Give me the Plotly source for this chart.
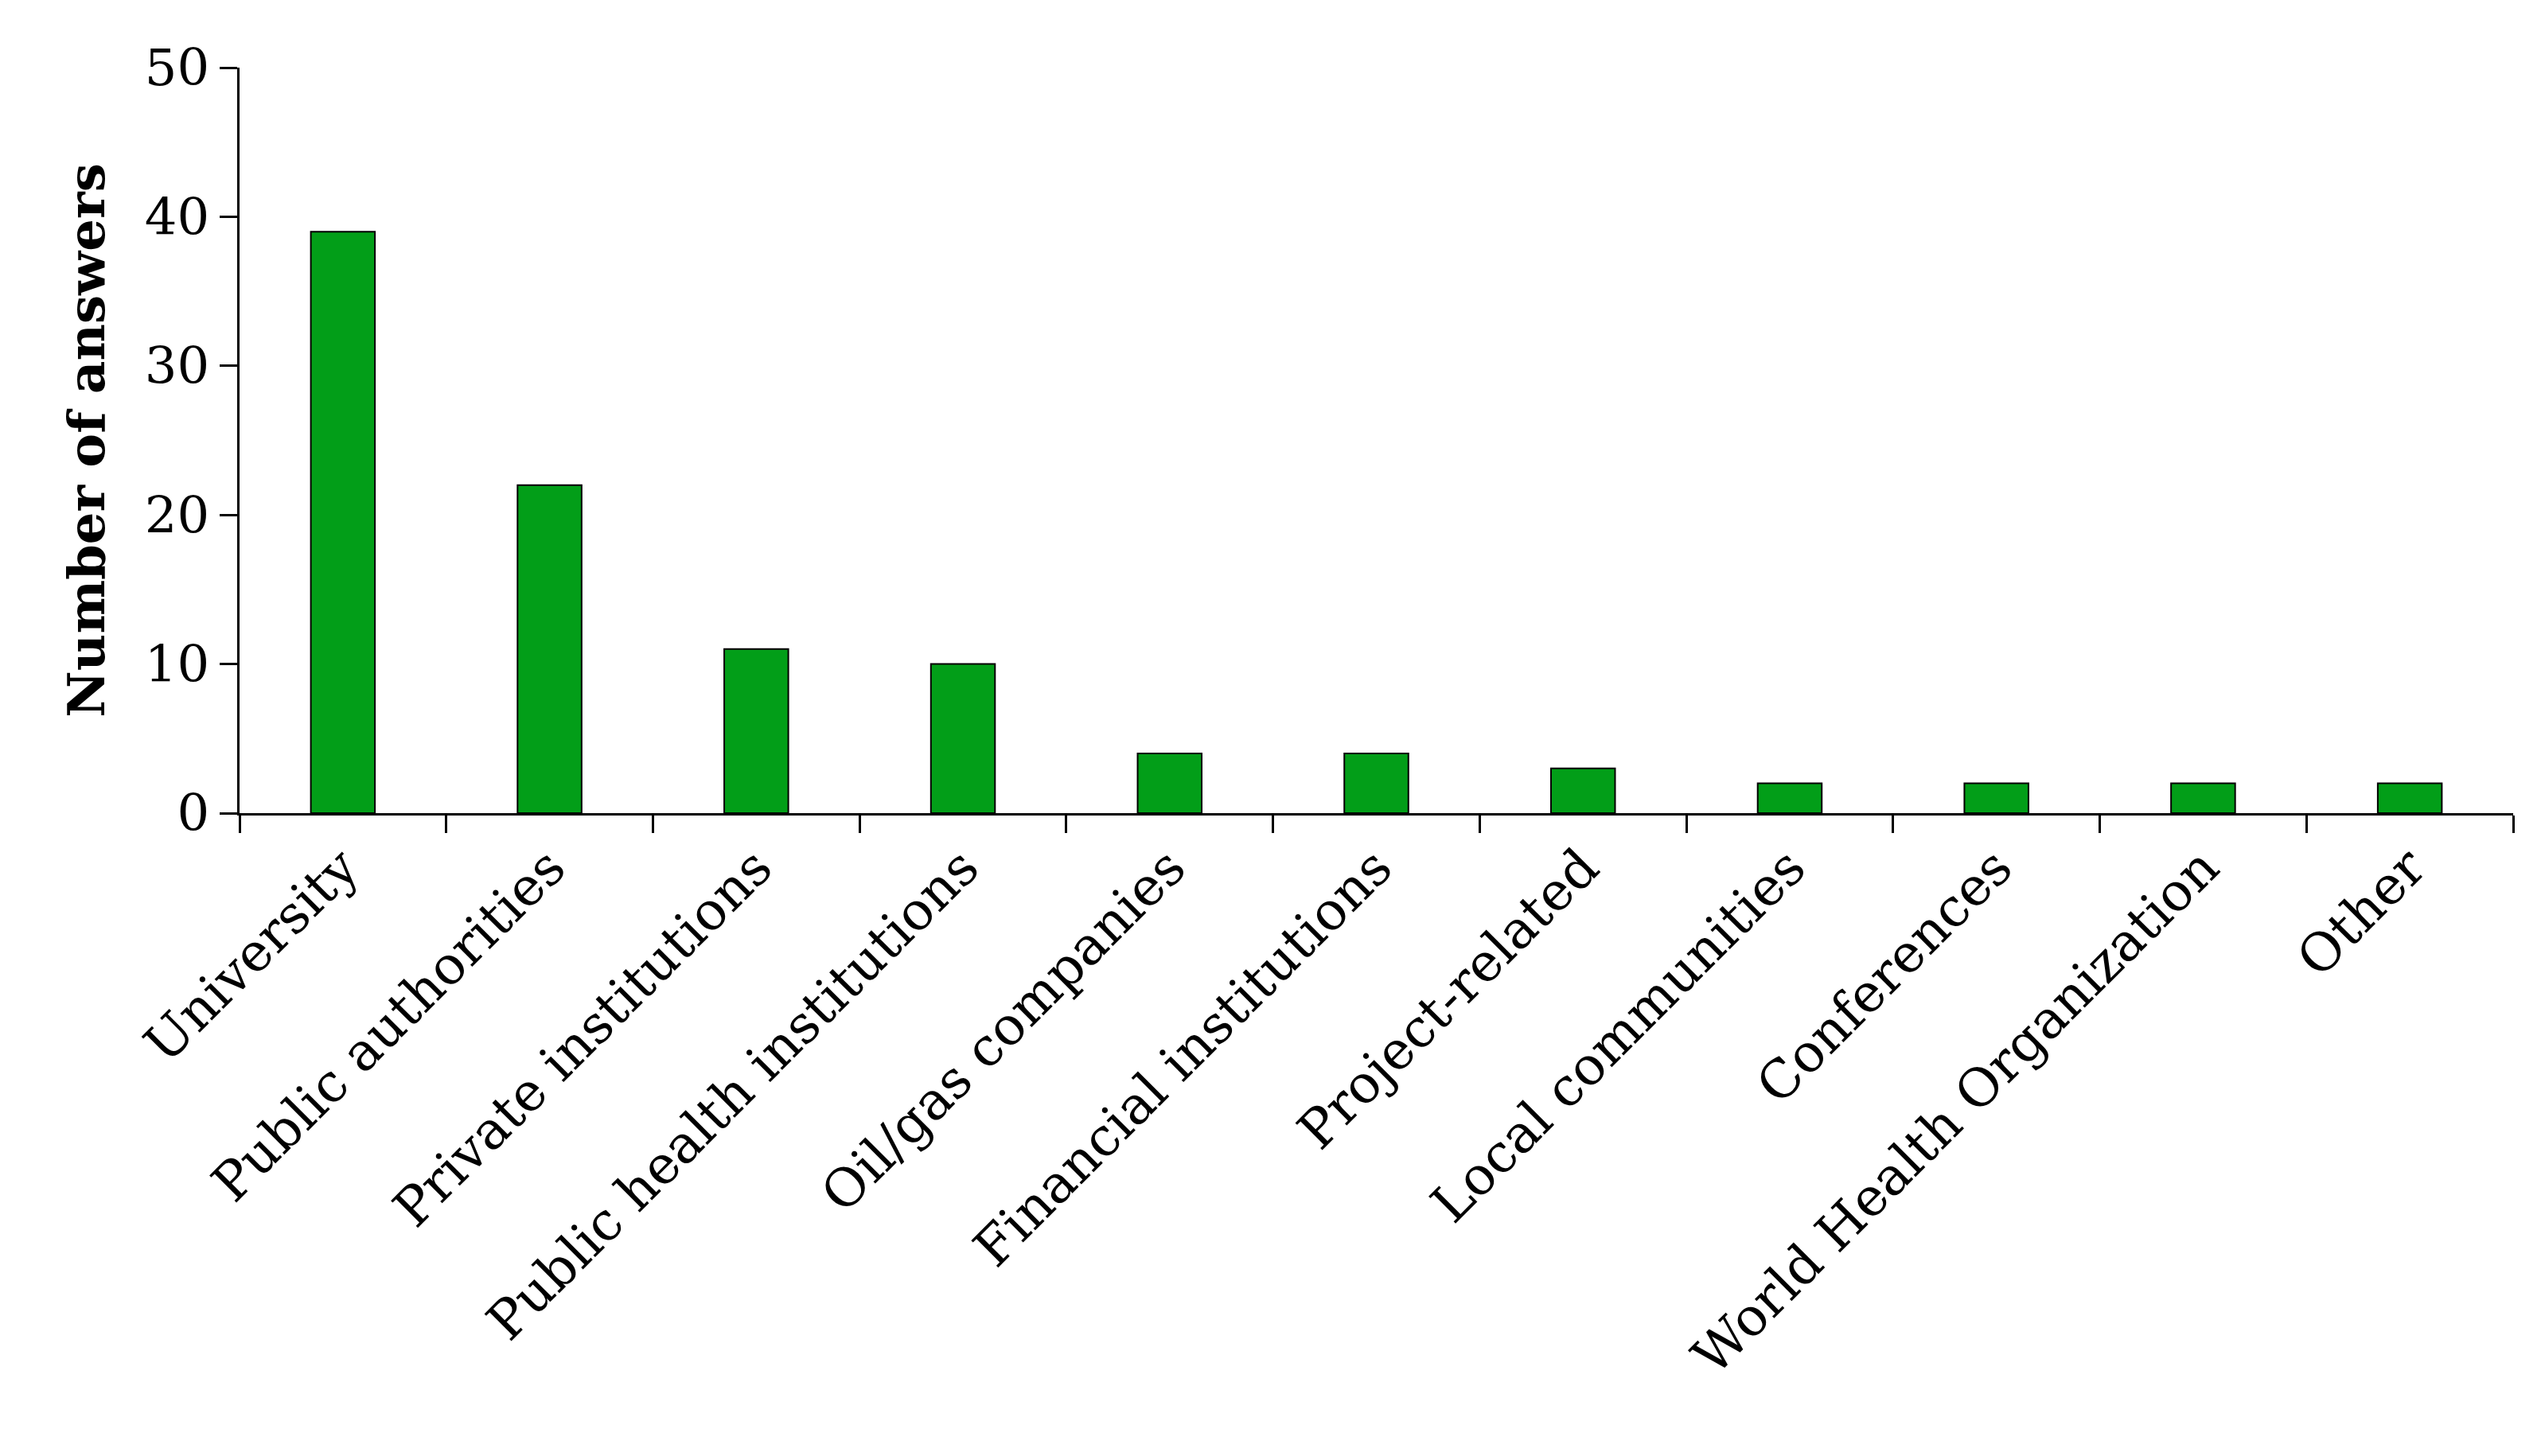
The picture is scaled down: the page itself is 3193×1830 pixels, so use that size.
import plotly.graph_objects as go

categories = ['University', 'Public authorities', 'Private institutions',
              'Public health institutions', 'Oil/gas companies',
              'Financial institutions', 'Project-related', 'Local communities',
              'Conferences', 'World Health Organization', 'Other']
answers = [39, 22, 11, 10, 4, 4, 3, 2, 2, 2, 2]

font = 'DejaVu Serif'

fig = go.Figure()
fig.add_trace(go.Bar(x=categories, y=answers, width=0.31,
                     marker=dict(color='#029e18', line=dict(color='black', width=2))))

fig.update_layout(
    width=3193, height=1830,
    margin=dict(l=293, r=43, t=77, b=816),
    plot_bgcolor='white', paper_bgcolor='white',
    font=dict(family=font, size=62, color='black'),
    showlegend=False,
    xaxis=dict(showline=True, linecolor='black', linewidth=3,
               ticks='outside', tickson='boundaries', ticklen=22,
               tickwidth=3, tickcolor='black', tickangle=-45,
               tickfont=dict(size=66)),
    yaxis=dict(range=[0, 50], dtick=10, showline=True, linecolor='black',
               linewidth=3, ticks='outside', ticklen=22, tickwidth=3,
               tickcolor='black', showgrid=False, zeroline=False,
               tickfont=dict(size=64),
               title=dict(text='<b>Number of answers</b>', font=dict(size=64),
                          standoff=30)),
)

fig.write_html('out.html')
